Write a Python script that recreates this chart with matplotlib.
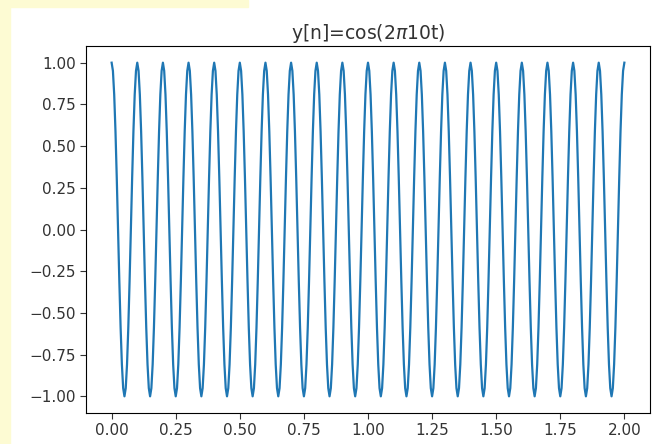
import numpy as np
import matplotlib
matplotlib.use("Agg")
import matplotlib.pyplot as plt
from matplotlib.patches import Rectangle

cycle_values = [1.0, 0.951, 0.809, 0.588, 0.309, 0.0, -0.309, -0.588, -0.809, -0.951,
                -1.0, -0.951, -0.809, -0.588, -0.309, 0.0, 0.309, 0.588, 0.809, 0.951]
n_cycles = 20
t_start, t_end = 0.0, 2.0
y_values = cycle_values * n_cycles + [1.0]
t_values = np.linspace(t_start, t_end, len(y_values))

title_text = r"y[n]=cos(2$\pi$10t)"
x_ticks = [0.00, 0.25, 0.50, 0.75, 1.00, 1.25, 1.50, 1.75, 2.00]
y_ticks = [-1.00, -0.75, -0.50, -0.25, 0.00, 0.25, 0.50, 0.75, 1.00]

fig = plt.figure(figsize=(6.57, 4.44), dpi=100)
W, H = 657, 444
ax = fig.add_axes([86 / W, 1 - 413 / H, (650 - 86) / W, (413 - 46) / H])
ax.plot(t_values, y_values, color="#1f77b4", linewidth=1.6)
ax.set_xticks(x_ticks)
ax.set_xticklabels([f"{v:.2f}" for v in x_ticks])
ax.set_yticks(y_ticks)
ax.set_yticklabels([f"{v:.2f}".replace("-", "\u2212") for v in y_ticks])
ax.tick_params(labelsize=11, colors="#333333", labelcolor="#333333", length=4)
ax.set_title(title_text, fontsize=13.5, color="#333333", pad=5)

# yellow page-border decoration
yellow = "#fdfbd3"
fig.patches.append(Rectangle((0, 0), 10 / W, 1, transform=fig.transFigure, color=yellow, zorder=0))
fig.patches.append(Rectangle((0, 1 - 7 / H), 248 / W, 7 / H, transform=fig.transFigure, color=yellow, zorder=0))

fig.savefig("out.png", dpi=100)
